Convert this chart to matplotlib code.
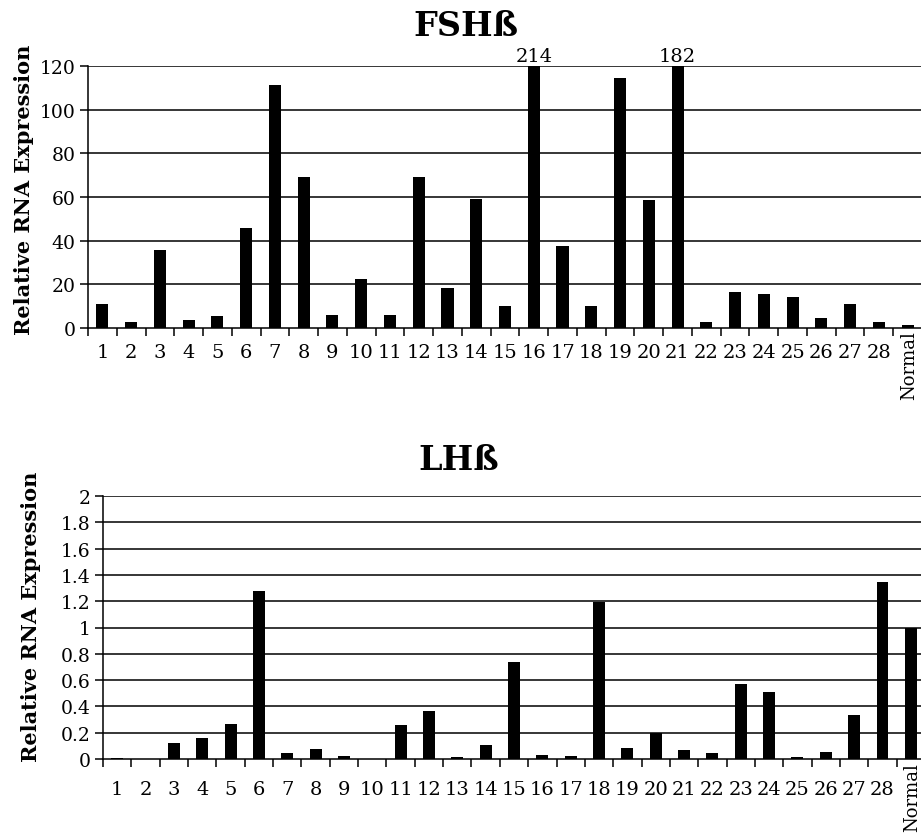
import matplotlib.pyplot as plt
import numpy as np

plt.rcParams["font.family"] = ["DejaVu Serif"]

samples = [str(i) for i in range(1, 29)] + ["Normal"]

fsh_values = [11, 2.6, 35.5, 3.8, 5.7, 45.6, 111.5, 69, 6, 22.5, 6, 69, 18.3,
              59, 10.1, 214, 37.5, 10.3, 114.5, 58.5, 182, 2.6, 16.4, 15.8,
              14.4, 4.6, 11, 2.9, 1.5]
lh_values = [0.01, 0.0, 0.12, 0.157, 0.266, 1.276, 0.046, 0.076, 0.02, 0.003,
             0.256, 0.367, 0.018, 0.11, 0.735, 0.03, 0.025, 1.194, 0.086, 0.2,
             0.071, 0.043, 0.57, 0.51, 0.013, 0.053, 0.337, 1.343, 1.0]

fsh_ticks = [0, 20, 40, 60, 80, 100, 120]
lh_ticks = [0, 0.2, 0.4, 0.6, 0.8, 1, 1.2, 1.4, 1.6, 1.8, 2]
lh_ticklabels = ["0", "0.2", "0.4", "0.6", "0.8", "1", "1.2", "1.4", "1.6", "1.8", "2"]

W, H = 921, 837


def draw_panel(ax, values, yticks, yticklabels, ymax, label_pad):
    x = np.arange(len(samples))
    ax.bar(x, values, width=0.42, color="black", zorder=3)
    ax.set_xlim(-0.5, len(samples) - 0.5)
    ax.set_ylim(0, ymax)

    for y in yticks[1:]:
        ax.axhline(y, color="black", linewidth=1.1, zorder=1)

    ax.set_yticks(yticks)
    ax.set_yticklabels(yticklabels, fontsize=13.5)
    ax.tick_params(axis="y", direction="out", length=6, width=1.1, pad=3)

    # boundaries get the tick marks, centres get the labels
    ax.set_xticks(np.arange(len(samples) + 1) - 0.5)
    ax.set_xticklabels([])
    ax.tick_params(axis="x", which="major", direction="out", length=6, width=1.1)
    ax.set_xticks(x[:-1], minor=True)
    ax.set_xticklabels(samples[:-1], minor=True, fontsize=14)
    ax.tick_params(axis="x", which="minor", length=0, pad=label_pad)

    ax.text(x[-1] + 0.05, -0.01, samples[-1], transform=ax.get_xaxis_transform(),
            rotation=90, ha="center", va="top", fontsize=13)

    for side in ("top", "right"):
        ax.spines[side].set_visible(False)
    ax.spines["left"].set_linewidth(1.1)
    ax.spines["bottom"].set_linewidth(1.1)


fig = plt.figure(figsize=(W / 100, H / 100), dpi=100)

ax1 = fig.add_axes([88 / W, 1 - 329 / H, 834 / W, 262 / H])
draw_panel(ax1, fsh_values, fsh_ticks, [str(t) for t in fsh_ticks], 120, 11)
for i, v in enumerate(fsh_values):
    if v > 120:
        ax1.annotate(f"{v:g}", (i, 120), xytext=(0, 1), textcoords="offset points",
                     ha="center", va="bottom", fontsize=14, annotation_clip=False)

ax2 = fig.add_axes([103 / W, 1 - 760 / H, 822 / W, 263 / H])
draw_panel(ax2, lh_values, lh_ticks, lh_ticklabels, 2, 15)

fig.text(24 / W, 1 - 190 / H, "Relative RNA Expression", rotation=90,
         ha="center", va="center", fontsize=15, fontweight="bold")
fig.text(31 / W, 1 - 617 / H, "Relative RNA Expression", rotation=90,
         ha="center", va="center", fontsize=15, fontweight="bold")

fig.text(466 / W, 1 - 27 / H, "FSHß", ha="center", va="center",
         fontsize=24, fontweight="bold")
fig.text(459 / W, 1 - 461 / H, "LHß", ha="center", va="center",
         fontsize=24, fontweight="bold")

fig.savefig("out.png", dpi=100)
